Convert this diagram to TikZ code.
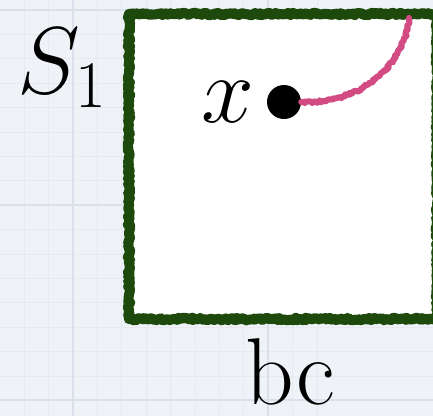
\RequirePackage{fix-cm}
\documentclass[tikz,border=0pt]{standalone}
\usepackage{fontspec}
\usetikzlibrary{decorations.pathmorphing}
\definecolor{paper}{HTML}{EFF2F7}
\definecolor{minorgrid}{HTML}{E5EAF1}
\definecolor{majorgrid}{HTML}{DAE1EA}
\definecolor{boxgreen}{HTML}{1D4A0C}
\definecolor{pathpink}{HTML}{D24B82}
\tikzset{
  rough/.style={decorate,decoration={random steps,segment length=1.6pt,amplitude=1.3pt}},
  greenedge/.style={draw=boxgreen,line width=10pt,rough,line join=round,line cap=round},
  pinkpath/.style={draw=pathpink,line width=6pt,rough,line cap=round,line join=round},
  bigtext/.style={font=\fontsize{95}{100}\selectfont,inner sep=0pt,text=black},
  dotstyle/.style={circle,fill=black,minimum size=34pt,inner sep=0pt}
}
\begin{document}
\begin{tikzpicture}[x=1pt,y=-1pt]
\useasboundingbox (0,0) rectangle (433,416);
\clip (0,0) rectangle (433,416);
\fill[paper] (0,0) rectangle (433,416);
\foreach \k in {0,...,18} {
  \draw[minorgrid,line width=0.8pt] ({73-8*24.4+\k*24.4},0) -- ++(0,416);
}
\foreach \k in {0,...,18} {
  \draw[minorgrid,line width=0.8pt] (0,{10+\k*24.4}) -- ++(433,0);
}
\foreach \xx in {73,268} { \draw[majorgrid,line width=1.2pt] (\xx,0) -- (\xx,416); }
\foreach \yy in {10,205,400} { \draw[majorgrid,line width=1.2pt] (0,\yy) -- (433,\yy); }
% box
\fill[white] (129,14) rectangle (436,319);
\draw[greenedge] (129,14) -- (436,14);
\draw[greenedge] (129,14) -- (129,319);
\draw[greenedge] (129,319) -- (436,319);
\draw[greenedge] (437,14) -- (437,319);
% labels
\node[bigtext,anchor=base] (s1) at (62,93) {$S_1$};
\node[bigtext,anchor=base] (bc) at (290,404) {bc};
% point
\node[dotstyle] (xpt) at (284,102) {};
\node[bigtext,anchor=base] (xlab) at (228,122) {$x$};
\coordinate (top) at (409,18);
\draw[pinkpath] (xpt.east) .. controls (365,104) and (405,62) .. (top);
\end{tikzpicture}
\end{document}
